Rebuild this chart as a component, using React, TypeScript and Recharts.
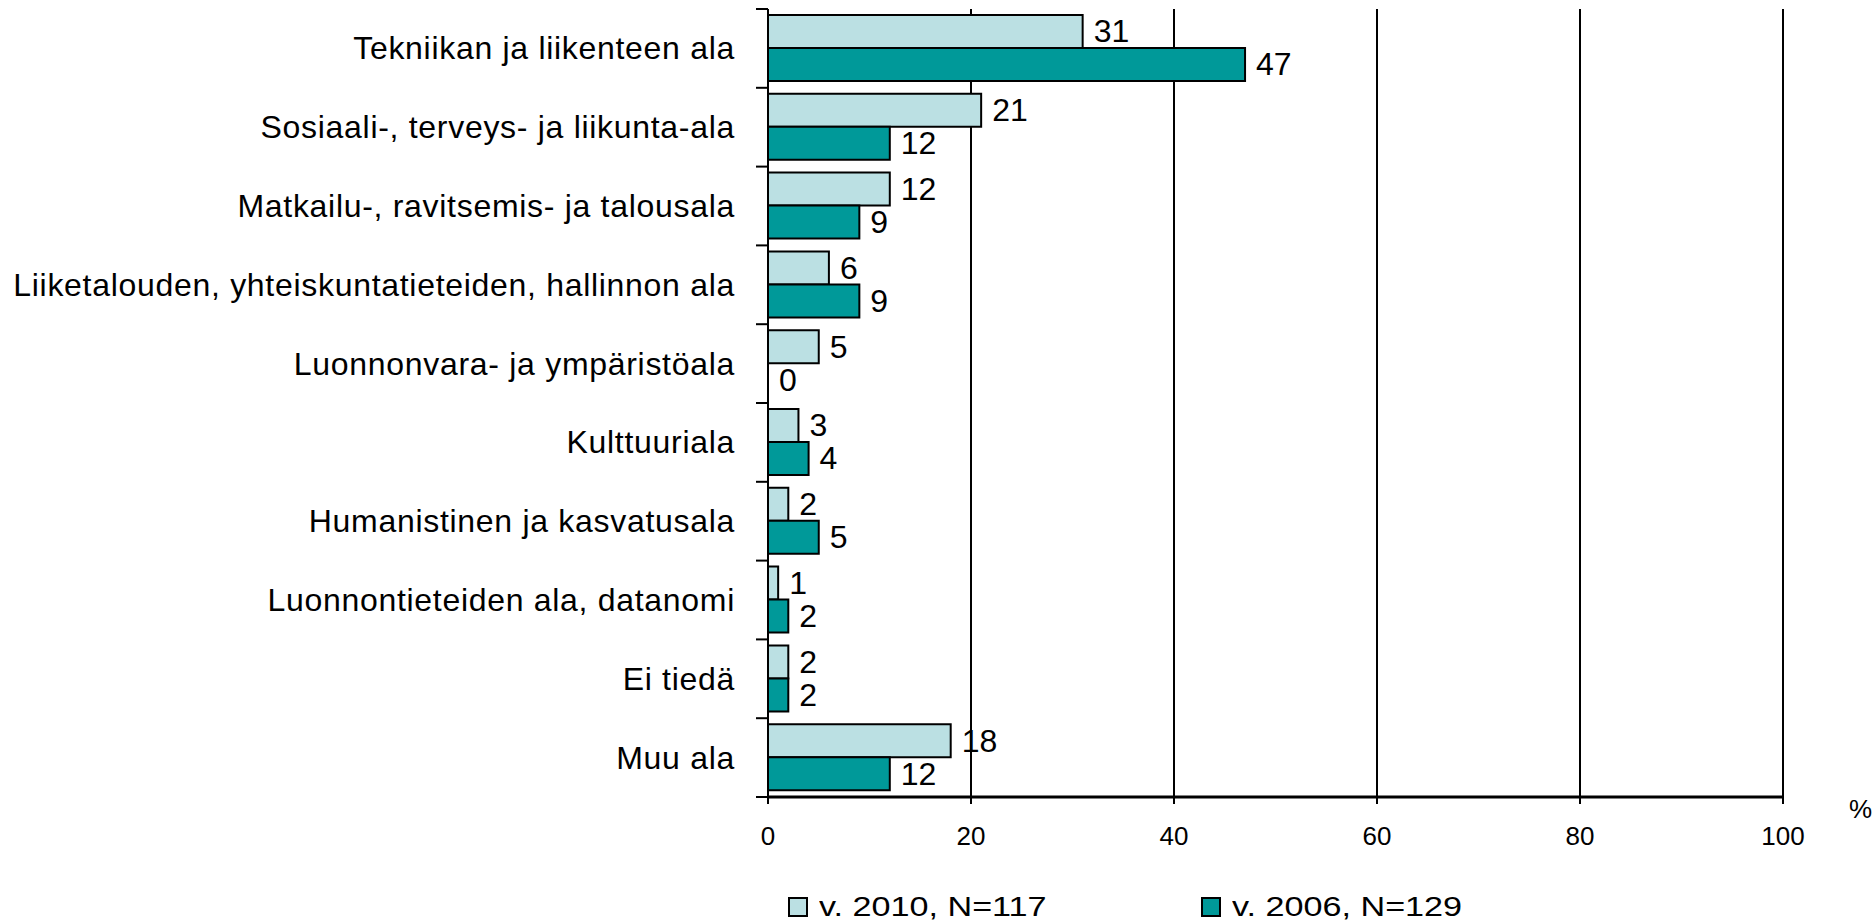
import React from 'react';
import { BarChart, Bar, XAxis, YAxis, CartesianGrid, LabelList, Legend, Label } from 'recharts';

const categories = [
  'Tekniikan ja liikenteen ala',
  'Sosiaali-, terveys- ja liikunta-ala',
  'Matkailu-, ravitsemis- ja talousala',
  'Liiketalouden, yhteiskuntatieteiden, hallinnon ala',
  'Luonnonvara- ja ympäristöala',
  'Kulttuuriala',
  'Humanistinen ja kasvatusala',
  'Luonnontieteiden ala, datanomi',
  'Ei tiedä',
  'Muu ala',
];
const values2010 = [31, 21, 12, 6, 5, 3, 2, 1, 2, 18];
const values2006 = [47, 12, 9, 9, 0, 4, 5, 2, 2, 12];
const xTicks = [0, 20, 40, 60, 80, 100];
const seriesNames = ['v. 2010, N=117', 'v. 2006, N=129'];
const seriesColors = ['#BBE0E3', '#009999'];

const data = categories.map((name, i) => ({ name, v2010: values2010[i], v2006: values2006[i] }));

const W = 1872;
const H = 922;
const MARGIN = { top: 9, right: 89, left: 0, bottom: 31 };
const Y_AXIS_W = 768;
const X_AXIS_H = 60;
const LEGEND_H = 34;
const AXIS_X = MARGIN.left + Y_AXIS_W;
const PLOT_H = H - MARGIN.top - MARGIN.bottom - X_AXIS_H - LEGEND_H;
const FONT = '"Liberation Sans", Arial, Helvetica, sans-serif';
const LEGEND_X = [788, 1201];
const LEGEND_TOP = 890;

// keep zero-valued bars in the layout (invisible) so their "0" label is still drawn
const zeroKeeper = (value: any) => (Number(value) === 0 ? 0.01 : 0);

const CategoryTick = (props: any) => {
  const { y, payload, index } = props;
  const band = PLOT_H / categories.length;
  const top = y - band / 2;
  const bottom = y + band / 2;
  return (
    <g>
      <line x1={AXIS_X - 12} x2={AXIS_X} y1={top} y2={top} stroke="#000" strokeWidth={2} />
      {index === categories.length - 1 && (
        <line x1={AXIS_X - 12} x2={AXIS_X} y1={bottom} y2={bottom} stroke="#000" strokeWidth={2} />
      )}
      <text
        x={AXIS_X - 33}
        y={y}
        textAnchor="end"
        dominantBaseline="central"
        fontSize={32}
        letterSpacing={0.7}
        fontFamily={FONT}
        fill="#000"
      >
        {payload.value}
      </text>
    </g>
  );
};

const ValueLabel = (props: any) => {
  const { x, y, width, height, value } = props;
  if (value === undefined || value === null) return null;
  return (
    <text
      x={Number(x) + Number(width) + 11}
      y={Number(y) + Number(height) / 2}
      dominantBaseline="central"
      fontSize={32}
      fontFamily={FONT}
      fill="#000"
    >
      {value}
    </text>
  );
};

const LegendContent = () => (
  <div style={{ position: 'relative', width: W, height: LEGEND_H, fontFamily: FONT }}>
    {seriesNames.map((name, i) => (
      <div
        key={name}
        style={{ position: 'absolute', left: LEGEND_X[i], top: 0, height: LEGEND_H, display: 'flex', alignItems: 'center' }}
      >
        <span
          style={{
            display: 'inline-block',
            width: 20,
            height: 20,
            background: seriesColors[i],
            border: '2px solid #000',
            boxSizing: 'border-box',
          }}
        />
        <span
          style={{
            display: 'inline-block',
            marginLeft: 11,
            fontSize: 28,
            lineHeight: `${LEGEND_H}px`,
            color: '#000',
            transform: 'scaleX(1.22)',
            transformOrigin: 'left center',
            whiteSpace: 'nowrap',
          }}
        >
          {name}
        </span>
      </div>
    ))}
  </div>
);

export default function App() {
  return (
    <div style={{ position: 'absolute', left: 0, top: 0, width: W, height: H, background: '#fff', fontFamily: FONT }}>
      <BarChart
        width={W}
        height={H}
        data={data}
        layout="vertical"
        margin={MARGIN}
        barCategoryGap="7.6%"
        barGap={0}
      >
        <CartesianGrid horizontal={false} stroke="#000" strokeWidth={2} />
        <XAxis
          type="number"
          domain={[0, 100]}
          ticks={xTicks}
          height={X_AXIS_H}
          tickSize={7}
          tickMargin={23}
          axisLine={{ stroke: '#000', strokeWidth: 3 }}
          tickLine={{ stroke: '#000', strokeWidth: 2 }}
          tick={{ fill: '#000', fontSize: 26, fontFamily: FONT }}
        >
          <Label value="%" position="right" offset={66} dy={-18} fill="#000" fontSize={26} fontFamily={FONT} />
        </XAxis>
        <XAxis
          xAxisId="top"
          orientation="top"
          type="number"
          domain={[0, 100]}
          height={0}
          tick={false}
          tickLine={false}
          axisLine={{ stroke: '#000', strokeWidth: 2 }}
        />
        <YAxis
          type="category"
          dataKey="name"
          width={Y_AXIS_W}
          axisLine={{ stroke: '#000', strokeWidth: 2 }}
          tickLine={false}
          tick={<CategoryTick />}
          interval={0}
        />
        <Legend
          verticalAlign="bottom"
          content={<LegendContent />}
          wrapperStyle={{ position: 'absolute', left: 0, top: LEGEND_TOP, bottom: 'auto', width: W, height: LEGEND_H }}
        />
        <Bar dataKey="v2010" name={seriesNames[0]} fill={seriesColors[0]} stroke="#000" strokeWidth={2} minPointSize={zeroKeeper} isAnimationActive={false}>
          <LabelList dataKey="v2010" content={<ValueLabel />} />
        </Bar>
        <Bar dataKey="v2006" name={seriesNames[1]} fill={seriesColors[1]} stroke="#000" strokeWidth={2} minPointSize={zeroKeeper} isAnimationActive={false}>
          <LabelList dataKey="v2006" content={<ValueLabel />} />
        </Bar>
      </BarChart>
    </div>
  );
}
